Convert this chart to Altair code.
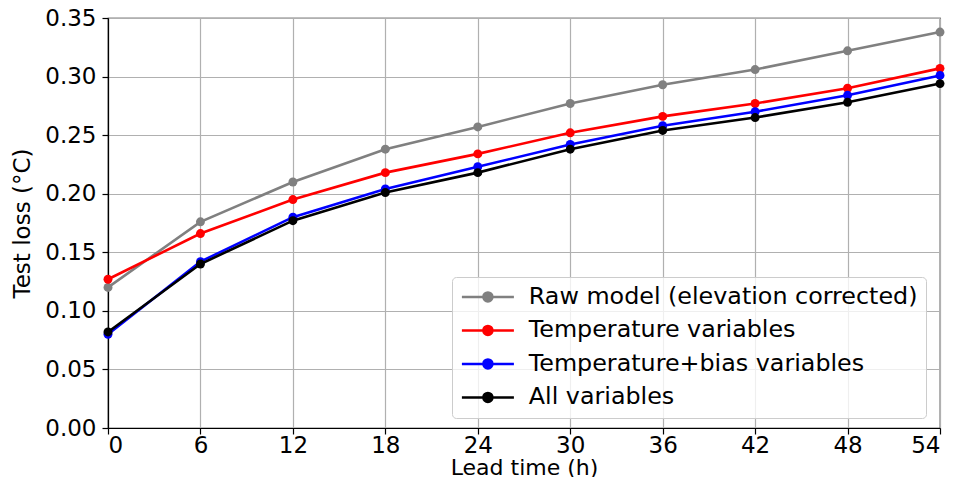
import altair as alt
import pandas as pd

lead_time = [0, 6, 12, 18, 24, 30, 36, 42, 48, 54]
raw_model = [0.120, 0.176, 0.210, 0.238, 0.257, 0.277, 0.293, 0.306, 0.322, 0.338]
temp_vars = [0.127, 0.166, 0.195, 0.218, 0.234, 0.252, 0.266, 0.277, 0.290, 0.307]
temp_bias_vars = [0.080, 0.142, 0.180, 0.204, 0.223, 0.242, 0.258, 0.270, 0.284, 0.301]
all_vars = [0.082, 0.140, 0.177, 0.201, 0.218, 0.238, 0.254, 0.265, 0.278, 0.294]

series_names = [
    "Raw model (elevation corrected)",
    "Temperature variables",
    "Temperature+bias variables",
    "All variables",
]
series_colors = ["#808080", "#ff0000", "#0000ff", "#000000"]
series_values = [raw_model, temp_vars, temp_bias_vars, all_vars]

x_ticks = [0, 6, 12, 18, 24, 30, 36, 42, 48, 54]
y_ticks = [0.0, 0.05, 0.10, 0.15, 0.20, 0.25, 0.30, 0.35]

rows = []
for name, vals in zip(series_names, series_values):
    for t, v in zip(lead_time, vals):
        rows.append({"lead": t, "loss": v, "series": name})
df = pd.DataFrame(rows)

FONT = "DejaVu Sans"

x_enc = alt.X(
    "lead:Q",
    scale=alt.Scale(domain=[0, 54], nice=False, zero=False),
    axis=alt.Axis(values=x_ticks, title="Lead time (h)", format="d"),
)
y_enc = alt.Y(
    "loss:Q",
    scale=alt.Scale(domain=[0, 0.35], nice=False),
    axis=alt.Axis(values=y_ticks, title="Test loss (°C)", format=".2f"),
)

legend_path = "M-2.6,0L2.6,0M-0.45,0A0.45,0.45,0,1,1,0.45,0A0.45,0.45,0,1,1,-0.45,0Z"
color_enc = alt.Color(
    "series:N",
    scale=alt.Scale(domain=series_names, range=series_colors),
    sort=series_names,
    legend=alt.Legend(
        title=None,
        orient="none",
        legendX=344,
        legendY=259,
        symbolType=legend_path,
        symbolSize=400,
        symbolStrokeWidth=2.5,
        symbolOffset=16,
        symbolOpacity=1,
        symbolFillColor=alt.ExprRef(expr="scale('color', datum.value)"),
        symbolStrokeColor=alt.ExprRef(expr="scale('color', datum.value)"),
        labelOffset=29,
        labelFontSize=23.8,
        labelFont=FONT,
        labelColor="black",
        labelLimit=600,
        rowPadding=8.5,
        padding=8,
        cornerRadius=4,
        strokeColor="#cccccc",
        fillColor="rgba(255,255,255,0.8)",
    ),
)

layers = []
for name in series_names:
    base = alt.Chart(df).transform_filter(alt.datum.series == name)
    layers.append(
        base.mark_line(strokeWidth=2.6).encode(x=x_enc, y=y_enc, color=color_enc)
    )
    layers.append(
        base.mark_point(filled=True, size=80, opacity=1).encode(
            x=x_enc, y=y_enc, color=color_enc
        )
    )

chart = (
    alt.layer(*layers)
    .properties(
        width=832,
        height=410,
        autosize=alt.AutoSizeParams(type="none"),
        padding={"left": 100, "top": 10, "right": 8, "bottom": 49},
    )
    .configure_view(stroke="black", strokeWidth=1.2)
    .configure_axis(
        labelFont=FONT,
        titleFont=FONT,
        labelFontSize=23,
        titleFontSize=23,
        titleFontWeight="normal",
        labelColor="black",
        titleColor="black",
        domainColor="black",
        domainWidth=1.2,
        tickColor="black",
        tickWidth=1.2,
        tickSize=6,
        gridColor="#b0b0b0",
        gridWidth=1.2,
        gridOpacity=1,
    )
    .configure_axisX(labelPadding=0, titlePadding=0, titleFontSize=22)
    .configure_axisY(labelPadding=6, titlePadding=10)
)

chart.save("out.html", embed_options={"renderer": "svg", "actions": False})
